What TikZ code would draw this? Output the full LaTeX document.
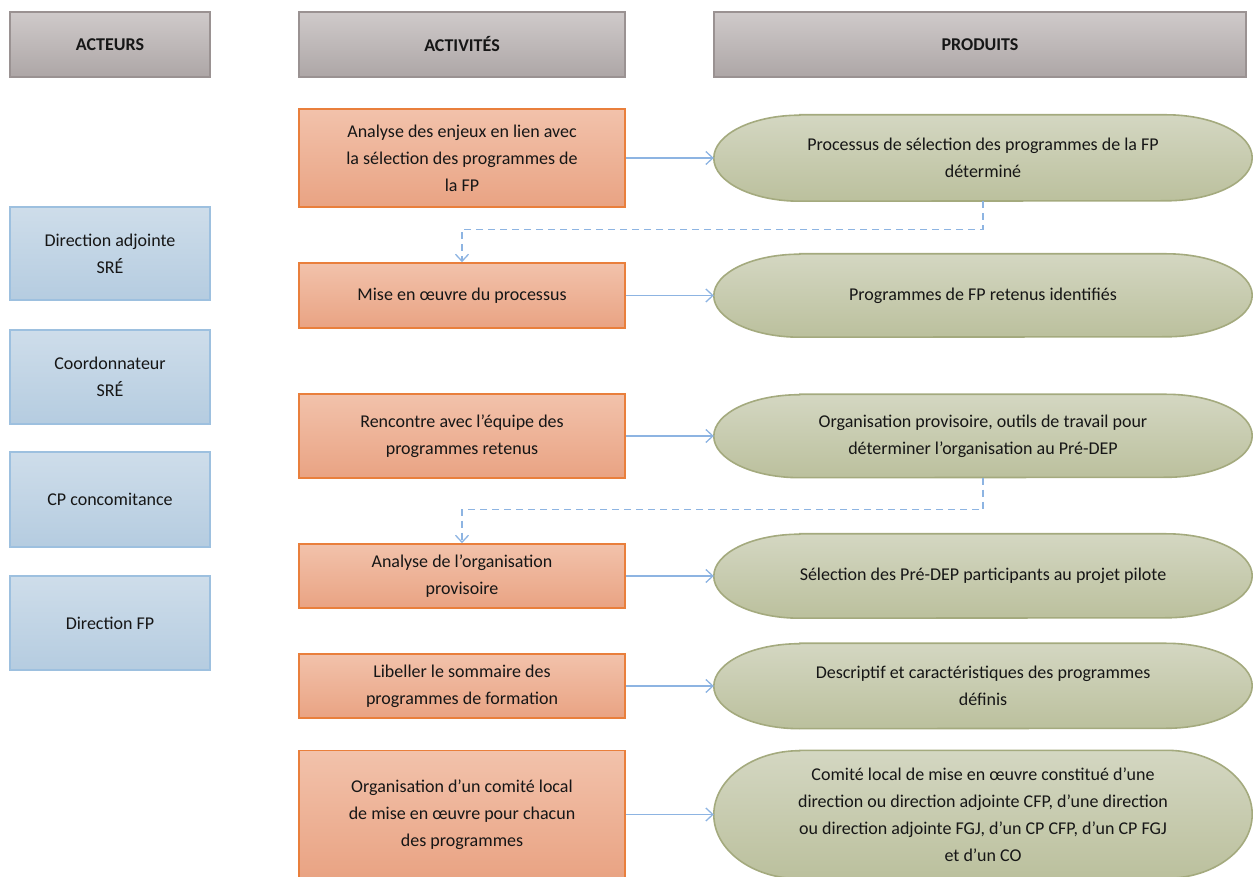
\documentclass[tikz,border=0pt]{standalone}
\usepackage{fontspec}
\setmainfont{Carlito}
\usetikzlibrary{arrows.meta,backgrounds,calc}
\definecolor{hdtop}{HTML}{CFCACA}
\definecolor{hdbot}{HTML}{ADA6A6}
\definecolor{hdborder}{HTML}{9A9292}
\definecolor{ortop}{HTML}{F2C2AB}
\definecolor{orbot}{HTML}{E9A383}
\definecolor{orborder}{HTML}{E97F3C}
\definecolor{bltop}{HTML}{CEDDEA}
\definecolor{blbot}{HTML}{B5CCE0}
\definecolor{blborder}{HTML}{9DC0DF}
\definecolor{oltop}{HTML}{D4D7C2}
\definecolor{olbot}{HTML}{BBC09D}
\definecolor{olborder}{HTML}{A4AA7E}
\definecolor{arrowc}{HTML}{8DB4E2}
\definecolor{txt}{HTML}{161616}
\newcommand\prodbg[2]{%
  \path[prodfill] ($(#1.north west)+(86,0)$) -- ($(#1.north east)+(-86,0)$)
    arc[start angle=90,end angle=-90,x radius=86,y radius=#2]
    -- ($(#1.south west)+(86,0)$)
    arc[start angle=270,end angle=90,x radius=86,y radius=#2] -- cycle;}
\begin{document}
\begin{tikzpicture}[x=1pt,y=1pt,
  every node/.style={font=\fontsize{18}{27}\selectfont, text=txt, align=center, inner sep=0pt},
  header/.style={draw=hdborder, line width=1.2pt, top color=hdtop, bottom color=hdbot, minimum height=65pt, font=\fontsize{18}{27}\selectfont\bfseries},
  actbox/.style={draw=orborder, line width=1.6pt, top color=ortop, bottom color=orbot, minimum width=326pt},
  actor/.style={draw=blborder, line width=1.6pt, top color=bltop, bottom color=blbot, minimum width=200pt},
  prod/.style={minimum width=538pt},
  prodfill/.style={draw=olborder, line width=1.6pt, top color=oltop, bottom color=olbot},
  link/.style={draw=arrowc, line width=1.3pt, -{Straight Barb[length=7pt,width=13pt]}},
  dlink/.style={link, dash pattern=on 7pt off 5pt}]
\useasboundingbox (0,0) rectangle (1253,876);
% headers
\node[header, minimum width=200pt] (h1) at (110,831.5) {ACTEURS};
\node[header, minimum width=326pt] (h2) at (462,831.5) {ACTIVITÉS};
\node[header, minimum width=532pt] (h3) at (980,831.5) {PRODUITS};
% actors
\node[actor, minimum height=93pt] (b1) at (110,622.5) {Direction adjointe\\SRÉ};
\node[actor, minimum height=94pt] (b2) at (110,499) {Coordonnateur\\SRÉ};
\node[actor, minimum height=95pt] (b3) at (110,376.5) {CP concomitance};
\node[actor, minimum height=94pt] (b4) at (110,253) {Direction FP};
% activities
\node[actbox, minimum height=98pt] (a1) at (462,718) {Analyse des enjeux en lien avec\\la sélection des programmes de\\la FP};
\node[actbox, minimum height=65pt] (a2) at (462,580.5) {Mise en œuvre du processus};
\node[actbox, minimum height=84pt] (a3) at (462,440) {Rencontre avec l’équipe des\\programmes retenus};
\node[actbox, minimum height=64pt] (a4) at (462,300) {Analyse de l’organisation\\provisoire};
\node[actbox, minimum height=64pt] (a5) at (462,190) {Libeller le sommaire des\\programmes de formation};
\node[actbox, minimum height=128pt] (a6) at (462,61.5) {Organisation d’un comité local\\de mise en œuvre pour chacun\\des programmes};
% products
\node[prod, minimum height=86pt] (p1) at (983,718) {Processus de sélection des programmes de la FP\\déterminé};
\node[prod, minimum height=83pt] (p2) at (983,580.5) {Programmes de FP retenus identifiés};
\node[prod, minimum height=83pt] (p3) at (983,440) {Organisation provisoire, outils de travail pour\\déterminer l’organisation au Pré-DEP};
\node[prod, minimum height=84pt] (p4) at (983,300) {Sélection des Pré-DEP participants au projet pilote};
\node[prod, minimum height=85pt] (p5) at (983,190) {Descriptif et caractéristiques des programmes\\définis};
\node[prod, minimum height=128pt] (p6) at (983,61.5) {Comité local de mise en œuvre constitué d’une\\direction ou direction adjointe CFP, d’une direction\\ou direction adjointe FGJ, d’un CP CFP, d’un CP FGJ\\et d’un CO};
\begin{scope}[on background layer]
\prodbg{p1}{43}
\prodbg{p2}{41.5}
\prodbg{p3}{41.5}
\prodbg{p4}{42}
\prodbg{p5}{42.5}
\prodbg{p6}{64}
\end{scope}
% connectors
\draw[link] (a1.east) -- (p1.west);
\draw[link] (a2.east) -- (p2.west);
\draw[link] (a3.east) -- (p3.west);
\draw[link] (a4.east) -- (p4.west);
\draw[link] (a5.east) -- (p5.west);
\draw[link] (a6.east) -- (p6.west);
\draw[dlink] (p1.south) -- ++(0,-28) -| (a2.north);
\draw[dlink] (p3.south) -- ++(0,-32) -| (a4.north);
\end{tikzpicture}
\end{document}
